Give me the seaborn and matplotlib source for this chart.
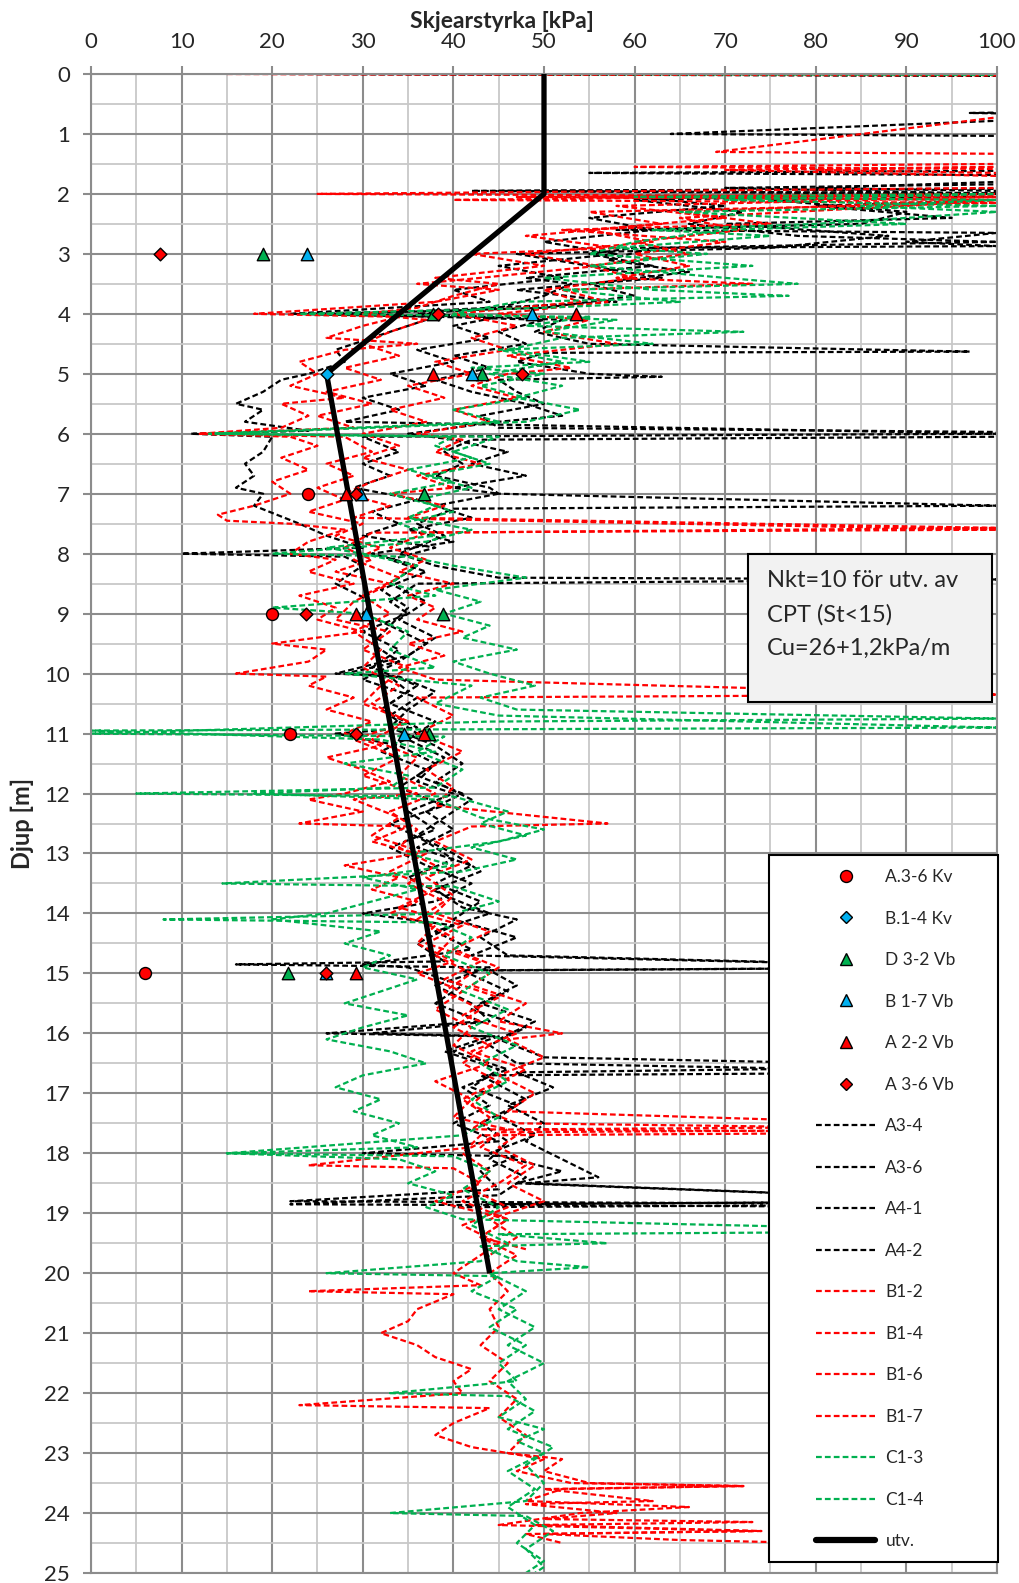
import numpy as np
import pandas as pd
import matplotlib
matplotlib.use("Agg")
import matplotlib.pyplot as plt
import seaborn as sns
from matplotlib.lines import Line2D
from matplotlib.patches import Rectangle
from matplotlib.ticker import MultipleLocator

# ---------------- data ----------------
X_TICKS = [0, 10, 20, 30, 40, 50, 60, 70, 80, 90, 100]
Y_TICKS = list(range(0, 26))

# point measurements (kPa, depth m)
A36_KV_x = [24.0, 20.0, 22.0, 6.0]
A36_KV_y = [7, 9, 11, 15]
B14_KV_x = [26.0]
B14_KV_y = [5]
D32_VB_x = [19.0, 37.8, 43.2, 36.7, 38.9, 37.3, 21.7]
D32_VB_y = [3, 4, 5, 7, 9, 11, 15]
B17_VB_x = [23.8, 48.7, 42.0, 29.8, 30.3, 34.6, 25.9]
B17_VB_y = [3, 4, 5, 7, 9, 11, 15]
A22_VB_x = [53.5, 37.8, 28.1, 29.2, 36.7, 29.2]
A22_VB_y = [4, 5, 7, 9, 11, 15]
A36_VB_x = [7.6, 38.3, 47.6, 29.2, 23.7, 29.2, 25.9]
A36_VB_y = [3, 4, 5, 7, 9, 11, 15]

# evaluated line (utv.)
UTV_x = [50, 50, 26, 44]
UTV_y = [0, 2, 5, 20]

# CPT traces: (depth m, cu kPa)
A3_4 = [(0.0, 22), (0.03, 120), (1.9, 120), (1.95, 42), (2.0, 100), (2.05, 60), (2.2, 70), (2.4, 55),
        (2.6, 62), (2.8, 50), (3.0, 58), (3.2, 45), (3.4, 52), (3.6, 40), (3.8, 44), (4.0, 22), (4.05, 38),
        (4.2, 35), (4.4, 31), (4.6, 27), (4.8, 28), (5.0, 24), (5.1, 21), (5.3, 19), (5.5, 16), (5.6, 19),
        (5.8, 17), (5.95, 24), (6.0, 11), (6.05, 20), (6.3, 19), (6.5, 17), (6.7, 18), (6.9, 16), (7.0, 19),
        (7.2, 18), (7.5, 23), (7.7, 26), (7.9, 30), (8.0, 10), (8.05, 28), (8.2, 30), (8.5, 27), (8.8, 31),
        (9.0, 30), (9.2, 33), (9.5, 31), (9.8, 34), (10.0, 28), (10.05, 33), (10.3, 35), (10.6, 32),
        (10.9, 36), (11.0, 27), (11.2, 34), (11.5, 38), (11.8, 36), (12.0, 40), (12.3, 35), (12.6, 38),
        (12.9, 33), (13.2, 37), (13.5, 42), (13.8, 38), (14.0, 30), (14.2, 40), (14.5, 36), (14.8, 39),
        (14.85, 16), (14.9, 44), (15.2, 38), (15.5, 42), (15.8, 44), (16.0, 31), (16.05, 45), (16.3, 40),
        (16.6, 46), (16.9, 41), (17.2, 44), (17.5, 40), (17.8, 45), (18.0, 30), (18.05, 47), (18.3, 43),
        (18.6, 45), (18.8, 22), (18.85, 100), (18.9, 40)]
A3_6 = [(0.6, 120), (0.65, 97), (0.7, 120), (0.78, 100), (1.0, 64), (1.05, 120), (1.6, 120), (1.65, 55),
        (1.7, 120), (1.9, 80), (2.0, 120), (2.1, 75), (2.3, 90), (2.5, 85), (2.6, 58), (2.65, 100), (2.8, 90),
        (2.87, 100), (2.9, 60), (3.0, 55), (3.2, 62), (3.4, 48), (3.5, 53), (3.7, 50), (3.9, 45), (4.0, 36),
        (4.1, 52), (4.3, 49), (4.5, 55), (4.63, 97), (4.65, 50), (4.8, 47), (5.0, 55), (5.05, 63), (5.1, 45),
        (5.3, 47), (5.5, 50), (5.7, 43), (5.9, 45), (5.97, 100), (6.05, 100), (6.1, 42), (6.3, 39), (6.5, 41),
        (6.7, 38), (6.9, 44), (7.0, 45), (7.2, 100), (7.25, 40), (7.5, 36), (7.7, 39), (8.0, 34), (8.2, 38),
        (8.4, 45), (8.43, 100), (8.5, 36), (8.8, 33), (9.0, 35), (9.3, 30), (9.6, 34), (9.9, 31), (10.2, 36),
        (10.5, 33), (10.8, 38), (11.1, 35), (11.4, 39), (11.7, 36), (12.0, 41), (12.3, 37), (12.6, 40),
        (12.9, 36), (13.2, 42), (13.5, 38), (13.8, 43), (14.1, 40), (14.4, 47), (14.7, 42), (14.9, 100),
        (14.95, 44), (15.2, 47), (15.5, 43), (15.8, 49), (16.1, 45), (16.4, 50), (16.55, 100), (16.65, 47),
        (16.9, 51), (17.2, 46), (17.5, 50), (17.8, 48), (18.1, 52), (18.4, 56), (18.5, 48), (18.8, 100),
        (18.85, 44)]
A4_1 = [(0.0, 100), (0.05, 120), (1.9, 120), (1.95, 45), (2.0, 120), (2.2, 80), (2.4, 95), (2.5, 70),
        (2.7, 88), (2.9, 75), (3.0, 47), (3.2, 55), (3.4, 63), (3.6, 47), (3.8, 58), (3.95, 37), (4.0, 24),
        (4.05, 45), (4.2, 40), (4.4, 44), (4.6, 36), (4.8, 40), (5.0, 33), (5.2, 37), (5.4, 30), (5.6, 34),
        (5.8, 28), (6.0, 100), (6.05, 30), (6.3, 34), (6.5, 30), (6.7, 33), (6.9, 29), (7.1, 36), (7.3, 31),
        (7.5, 34), (7.7, 30), (7.9, 38), (8.1, 33), (8.3, 37), (8.6, 32), (8.9, 35), (9.2, 33), (9.5, 37),
        (9.8, 34), (10.1, 30), (10.4, 36), (10.7, 33), (11.0, 36), (11.3, 32), (11.6, 37), (11.9, 34),
        (12.2, 39), (12.5, 33), (12.8, 37), (13.1, 40), (13.4, 35), (13.7, 39), (14.0, 44), (14.3, 38),
        (14.6, 42), (14.85, 30), (14.9, 35), (15.2, 41), (15.5, 38), (15.8, 43), (16.0, 26), (16.05, 44),
        (16.3, 39), (16.6, 45), (16.9, 42), (17.2, 47), (17.5, 43), (17.8, 46), (18.1, 44), (18.4, 48),
        (18.7, 45), (18.85, 22), (18.9, 100)]
A4_2 = [(0.0, 25), (0.04, 120), (1.8, 120), (1.9, 70), (2.0, 100), (2.1, 60), (2.3, 72), (2.5, 66),
        (2.7, 78), (2.8, 100), (2.9, 62), (3.1, 57), (3.3, 66), (3.5, 55), (3.7, 60), (3.9, 50), (4.0, 27),
        (4.1, 50), (4.3, 45), (4.5, 48), (4.7, 40), (4.9, 44), (5.1, 38), (5.3, 42), (5.5, 48), (5.7, 52),
        (5.8, 45), (6.0, 35), (6.1, 40), (6.3, 46), (6.5, 42), (6.7, 48), (6.9, 40), (7.0, 45), (7.2, 38),
        (7.4, 42), (7.6, 35), (7.8, 40), (8.0, 31), (8.2, 36), (8.5, 33), (8.8, 37), (9.1, 34), (9.4, 38),
        (9.7, 35), (10.0, 27), (10.05, 34), (10.3, 38), (10.6, 35), (10.9, 33), (11.2, 38), (11.5, 41),
        (11.8, 38), (12.1, 42), (12.4, 39), (12.7, 36), (13.0, 40), (13.3, 43), (13.6, 38), (13.9, 41),
        (14.1, 47), (14.4, 43), (14.7, 46), (14.9, 100), (14.95, 41), (15.3, 46), (15.6, 42), (15.9, 48),
        (16.2, 44), (16.5, 47), (16.65, 100), (16.7, 43), (17.1, 48), (17.4, 45), (17.7, 49), (18.0, 44),
        (18.3, 52), (18.5, 47), (18.8, 100), (18.85, 43)]
B1_2 = [(0.0, 15), (0.03, 120), (1.4, 120), (1.5, 100), (1.55, 60), (1.6, 120), (1.9, 100), (2.0, 25),
        (2.05, 100), (2.2, 58), (2.4, 70), (2.6, 55), (2.8, 62), (3.0, 48), (3.2, 56), (3.4, 43), (3.5, 36),
        (3.6, 45), (3.8, 38), (4.0, 18), (4.05, 34), (4.2, 30), (4.4, 26), (4.5, 36), (4.6, 28), (4.8, 23),
        (5.0, 25), (5.2, 22), (5.4, 28), (5.5, 21), (5.7, 24), (5.9, 21), (6.0, 12), (6.05, 22), (6.2, 25),
        (6.4, 21), (6.6, 24), (6.8, 20), (7.0, 22), (7.2, 18), (7.35, 14), (7.45, 15), (7.5, 22), (7.6, 28),
        (7.8, 24), (8.0, 22), (8.1, 27), (8.3, 24), (8.5, 29), (8.7, 23), (8.9, 27), (9.1, 25), (9.3, 30),
        (9.5, 20), (9.6, 26), (9.8, 24), (10.0, 16), (10.05, 26), (10.2, 24), (10.4, 29), (10.6, 26),
        (10.8, 31), (11.0, 28), (11.2, 32), (11.4, 26), (11.6, 30), (11.8, 33), (12.0, 28), (12.1, 24),
        (12.3, 30), (12.5, 23), (12.55, 35), (12.8, 31), (13.0, 36), (13.2, 28), (13.4, 34), (13.6, 31),
        (13.8, 36), (14.0, 33), (14.2, 38), (14.5, 36), (14.8, 40), (15.0, 36), (15.3, 41), (15.6, 38),
        (15.9, 42), (16.2, 40), (16.5, 44), (16.8, 38), (17.1, 42), (17.4, 40), (17.6, 46), (17.9, 42),
        (18.2, 24), (18.25, 40), (18.5, 43), (18.8, 38), (19.1, 46), (19.4, 43), (19.6, 48)]
B1_4 = [(0.0, 100), (0.05, 120), (0.3, 100), (0.35, 120), (1.3, 69), (1.35, 120), (2.0, 120), (2.05, 47),
        (2.1, 100), (2.3, 65), (2.5, 75), (2.6, 52), (2.8, 70), (3.0, 60), (3.2, 66), (3.4, 58), (3.5, 73),
        (3.6, 52), (3.8, 57), (4.0, 45), (4.1, 55), (4.3, 50), (4.5, 58), (4.7, 46), (4.9, 53), (5.0, 46),
        (5.2, 42), (5.4, 47), (5.6, 40), (5.8, 44), (6.0, 36), (6.1, 41), (6.3, 38), (6.5, 43), (6.7, 36),
        (6.9, 40), (7.0, 33), (7.2, 39), (7.4, 35), (7.57, 100), (7.65, 37), (7.9, 33), (8.1, 37), (8.3, 34),
        (8.5, 40), (8.7, 35), (8.9, 38), (9.1, 36), (9.3, 41), (9.5, 35), (9.7, 39), (9.9, 34), (10.1, 38),
        (10.35, 100), (10.4, 36), (10.7, 40), (11.0, 36), (11.3, 41), (11.6, 37), (11.9, 40), (12.2, 38),
        (12.5, 57), (12.55, 42), (12.8, 38), (13.1, 42), (13.4, 37), (13.7, 40), (14.0, 38), (14.3, 44),
        (14.6, 40), (14.9, 45), (15.2, 42), (15.5, 48), (15.8, 45), (16.0, 52), (16.1, 46), (16.4, 50),
        (16.7, 45), (17.0, 49), (17.3, 46), (17.55, 100), (17.6, 48), (17.9, 45), (18.2, 49), (18.5, 46),
        (18.8, 50), (19.1, 44), (19.4, 47), (19.7, 44)]
B1_6 = [(0.0, 20), (0.02, 120), (1.5, 120), (1.6, 80), (1.7, 120), (2.0, 100), (2.1, 40), (2.15, 100),
        (2.3, 55), (2.5, 63), (2.7, 48), (2.9, 58), (3.0, 42), (3.2, 50), (3.4, 38), (3.5, 45), (3.7, 40),
        (3.9, 36), (4.0, 30), (4.1, 37), (4.3, 33), (4.5, 30), (4.7, 34), (4.9, 28), (5.1, 32), (5.3, 26),
        (5.5, 31), (5.7, 25), (5.9, 29), (6.0, 12), (6.05, 28), (6.3, 31), (6.5, 26), (6.7, 29), (6.9, 25),
        (7.1, 28), (7.3, 24), (7.5, 30), (7.7, 27), (7.9, 32), (8.1, 29), (8.4, 34), (8.7, 30), (9.0, 33),
        (9.3, 29), (9.6, 32), (9.9, 30), (10.2, 34), (10.5, 31), (10.8, 35), (11.1, 31), (11.4, 36),
        (11.7, 34), (12.0, 38), (12.3, 33), (12.6, 36), (12.9, 34), (13.2, 38), (13.5, 35), (13.8, 39),
        (14.1, 36), (14.4, 40), (14.7, 38), (15.0, 42), (15.3, 39), (15.6, 43), (15.9, 40), (16.2, 44),
        (16.5, 41), (16.8, 45), (17.1, 41), (17.4, 44), (17.6, 42), (17.65, 100), (17.7, 43), (18.0, 41),
        (18.3, 44), (18.6, 42), (18.9, 46), (19.2, 41), (19.5, 45), (19.8, 42), (20.0, 40), (20.2, 43),
        (20.3, 24), (20.35, 40), (20.6, 36), (20.8, 35), (21.0, 32), (21.2, 36), (21.4, 38), (21.6, 42),
        (21.8, 40), (22.0, 41), (22.2, 23), (22.25, 44), (22.5, 40), (22.7, 38), (22.9, 42), (23.0, 46),
        (23.1, 50), (23.3, 47), (23.5, 53), (23.55, 72), (23.6, 52), (23.8, 48), (23.9, 66), (24.0, 54),
        (24.2, 45), (24.3, 73), (24.35, 50), (24.45, 65), (24.5, 80)]
B1_7 = [(0.0, 100), (0.04, 120), (1.5, 120), (1.55, 100), (1.6, 70), (1.7, 100), (2.0, 100), (2.05, 55),
        (2.1, 100), (2.2, 90), (2.4, 65), (2.6, 72), (2.8, 60), (3.0, 66), (3.2, 55), (3.4, 60), (3.6, 50),
        (3.8, 54), (4.0, 40), (4.2, 47), (4.4, 42), (4.6, 46), (4.8, 38), (5.0, 42), (5.2, 35), (5.4, 39),
        (5.6, 33), (5.8, 37), (6.0, 30), (6.2, 34), (6.4, 30), (6.6, 35), (6.8, 31), (7.0, 28), (7.2, 33),
        (7.4, 29), (7.6, 100), (7.65, 31), (7.9, 28), (8.1, 31), (8.3, 27), (8.5, 33), (8.8, 29), (9.1, 27),
        (9.3, 33), (9.6, 30), (9.9, 35), (10.2, 32), (10.5, 30), (10.8, 35), (11.1, 29), (11.4, 34),
        (11.7, 30), (12.0, 36), (12.1, 29), (12.4, 34), (12.7, 31), (13.0, 37), (13.3, 33), (13.6, 38),
        (13.9, 34), (14.2, 41), (14.5, 37), (14.8, 43), (15.1, 39), (15.4, 45), (15.7, 41), (16.0, 47),
        (16.3, 42), (16.6, 48), (16.9, 44), (17.2, 42), (17.5, 47), (17.6, 100), (17.65, 45), (17.9, 43),
        (18.2, 48), (18.5, 45), (18.8, 41), (19.1, 46), (19.4, 43), (19.7, 47), (20.0, 44), (20.3, 46),
        (20.6, 44), (20.9, 45), (21.2, 43), (21.5, 46), (21.8, 44), (22.1, 47), (22.4, 45), (22.7, 48),
        (23.0, 46), (23.1, 52), (23.3, 50), (23.5, 55), (23.55, 72), (23.6, 50), (23.8, 62), (23.85, 48),
        (24.0, 58), (24.1, 50), (24.15, 73), (24.2, 49), (24.3, 74), (24.35, 48), (24.5, 52)]
C1_3 = [(0.0, 45), (0.02, 120), (1.9, 120), (2.0, 100), (2.05, 60), (2.1, 100), (2.2, 85), (2.3, 100),
        (2.5, 80), (2.6, 62), (2.7, 75), (2.9, 58), (3.0, 68), (3.2, 55), (3.4, 70), (3.5, 78), (3.6, 52),
        (3.8, 65), (3.9, 50), (4.0, 23), (4.05, 55), (4.2, 48), (4.3, 72), (4.4, 52), (4.6, 46), (4.8, 55),
        (4.9, 42), (5.0, 50), (5.2, 43), (5.4, 48), (5.6, 40), (5.8, 45), (6.0, 13), (6.05, 40), (6.2, 38),
        (6.4, 42), (6.6, 35), (6.8, 40), (7.0, 33), (7.2, 38), (7.4, 35), (7.6, 42), (7.8, 37), (8.0, 20),
        (8.05, 35), (8.2, 40), (8.4, 48), (8.6, 38), (8.8, 43), (9.0, 39), (9.2, 44), (9.4, 41), (9.6, 47),
        (9.8, 40), (10.0, 44), (10.2, 49), (10.4, 43), (10.6, 47), (10.75, 100), (10.8, 44), (11.0, 0),
        (11.05, 39), (11.3, 36), (11.6, 41), (11.9, 38), (12.0, 5), (12.05, 40), (12.3, 46), (12.5, 43),
        (12.7, 48), (12.9, 42), (13.1, 47), (13.3, 41), (13.5, 14.5), (13.55, 40), (13.8, 45), (14.0, 40),
        (14.1, 8), (14.15, 38), (14.4, 42), (14.7, 39), (15.0, 44), (15.3, 41), (15.6, 46), (15.9, 42),
        (16.2, 47), (16.5, 43), (16.8, 46), (17.1, 42), (17.4, 45), (17.7, 41), (18.0, 15), (18.05, 40),
        (18.3, 44), (18.6, 41), (18.9, 45), (19.2, 42), (19.5, 46), (19.8, 43), (20.0, 26), (20.05, 45),
        (20.3, 42), (20.6, 47), (20.9, 44), (21.2, 48), (21.5, 45), (21.8, 47), (22.0, 33), (22.05, 46),
        (22.3, 49), (22.6, 46), (22.9, 51), (23.2, 48), (23.5, 50), (23.8, 48), (24.0, 33), (24.05, 48),
        (24.3, 51), (24.6, 48), (24.9, 50), (25.0, 49)]
C1_4 = [(0.0, 100), (0.03, 120), (1.95, 120), (2.0, 100), (2.1, 70), (2.2, 100), (2.3, 65), (2.5, 90),
        (2.6, 70), (2.8, 60), (3.0, 55), (3.2, 73), (3.4, 50), (3.6, 62), (3.7, 77), (3.8, 47), (4.0, 40),
        (4.1, 58), (4.3, 50), (4.5, 62), (4.6, 45), (4.8, 52), (5.0, 44), (5.2, 52), (5.4, 47), (5.6, 54),
        (5.8, 48), (6.0, 14), (6.05, 45), (6.3, 40), (6.5, 44), (6.7, 37), (6.9, 42), (7.1, 36), (7.3, 40),
        (7.5, 34), (7.7, 38), (7.9, 26), (8.0, 30), (8.2, 36), (8.5, 33), (8.7, 38), (8.9, 20), (9.0, 30),
        (9.3, 35), (9.6, 33), (9.9, 38), (10.0, 28), (10.2, 42), (10.5, 38), (10.7, 45), (10.9, 100),
        (10.95, 0), (11.1, 32), (11.3, 38), (11.5, 28), (11.7, 35), (11.9, 33), (12.0, 18), (12.1, 38),
        (12.4, 43), (12.6, 50), (12.8, 45), (13.0, 35), (13.2, 40), (13.4, 30), (13.6, 36), (13.8, 31),
        (14.0, 26), (14.1, 20), (14.3, 32), (14.5, 28), (14.7, 33), (14.9, 30), (15.1, 36), (15.3, 32),
        (15.5, 28), (15.7, 35), (15.9, 30), (16.1, 26), (16.3, 33), (16.5, 37), (16.7, 30), (16.9, 27),
        (17.1, 32), (17.3, 29), (17.5, 34), (17.7, 31), (17.9, 36), (18.0, 15), (18.1, 34), (18.3, 38),
        (18.5, 35), (18.7, 40), (18.9, 37), (19.1, 41), (19.3, 100), (19.35, 45), (19.5, 57), (19.55, 43),
        (19.8, 47), (19.9, 55), (20.0, 44), (20.3, 48), (20.6, 45), (20.9, 49), (21.2, 46), (21.5, 50),
        (21.8, 46), (22.1, 48), (22.4, 45), (22.6, 50), (22.8, 47), (23.0, 50), (23.3, 46), (23.6, 49),
        (23.9, 46), (24.2, 49), (24.5, 47), (24.8, 50), (25.0, 48)]

TRACE_NAMES = ["A3-4", "A3-6", "A4-1", "A4-2", "B1-2", "B1-4", "B1-6", "B1-7", "C1-3", "C1-4"]
TRACES = [A3_4, A3_6, A4_1, A4_2, B1_2, B1_4, B1_6, B1_7, C1_3, C1_4]

# ---------------- style ----------------
RED = "#FF0000"
GREEN = "#00B050"
BLUE = "#00B0F0"
BLACK = "#000000"
TRACE_COLORS = [BLACK] * 4 + [RED] * 4 + [GREEN] * 2
DASH = (0, (2.6, 1.4))
LW = 1.6
GRID_MAJ = "#8c8c8c"
GRID_MIN = "#c8c8c8"

sns.set_style("white")
plt.rcParams['font.family'] = ['Lato', 'DejaVu Sans']

W, H = 1020, 1583
fig = plt.figure(figsize=(W / 100, H / 100), dpi=100)
ax = fig.add_axes([91 / W, 1 - 1573 / H, 906 / W, 1499 / H])

# CPT traces
for name, tr, col in zip(TRACE_NAMES, TRACES, TRACE_COLORS):
    df = pd.DataFrame(tr, columns=["depth", "cu"])
    sns.lineplot(data=df, x="cu", y="depth", sort=False, estimator=None, ax=ax,
                 color=col, lw=LW, linestyle=DASH, legend=False, zorder=2)

# evaluated line
sns.lineplot(x=UTV_x, y=UTV_y, sort=False, estimator=None, ax=ax, color=BLACK,
             lw=3.8, legend=False, zorder=4, solid_capstyle="butt")

# point data
pts = [
    (A36_KV_x, A36_KV_y, "o", RED, 74),
    (B14_KV_x, B14_KV_y, "D", BLUE, 42),
    (D32_VB_x, D32_VB_y, "^", GREEN, 80),
    (B17_VB_x, B17_VB_y, "^", BLUE, 80),
    (A22_VB_x, A22_VB_y, "^", RED, 80),
    (A36_VB_x, A36_VB_y, "D", RED, 42),
]
for xs, ys, mk, col, s in pts:
    sns.scatterplot(x=xs, y=ys, marker=mk, color=col, s=s, edgecolor="black",
                    linewidth=1.0, ax=ax, zorder=6, legend=False)

# axes formatting
ax.set_xlim(0, 100)
ax.set_ylim(25, 0)
ax.set_xticks(X_TICKS)
ax.set_yticks(Y_TICKS)
ax.xaxis.set_minor_locator(MultipleLocator(5))
ax.yaxis.set_minor_locator(MultipleLocator(0.5))
ax.xaxis.tick_top()
ax.set_xlabel("")
ax.set_ylabel("")
ax.grid(which="minor", color=GRID_MIN, lw=1.3)
ax.grid(which="major", color=GRID_MAJ, lw=1.5)
ax.set_axisbelow(True)
ax.tick_params(which="minor", length=0)
ax.tick_params(axis="x", which="major", top=True, bottom=False, length=6, width=1.5,
               color=GRID_MAJ, labelsize=16, pad=10, direction="out")
ax.tick_params(axis="y", which="major", left=True, right=False, length=6, width=1.5,
               color=GRID_MAJ, labelsize=16, pad=9, direction="out")
for sp in ax.spines.values():
    sp.set_color(GRID_MAJ)
    sp.set_linewidth(1.5)

fig.text(502 / W, 1 - 22 / H, "Skjearstyrka [kPa]", fontsize=16.5, fontweight="bold",
         ha="center", va="center")
fig.text(22 / W, 1 - 823 / H, "Djup [m]", fontsize=17, fontweight="bold",
         ha="center", va="center", rotation=90)

# annotation box
ax.add_patch(Rectangle((72.5, 8.0), 26.9, 2.48, facecolor="#f2f2f2", edgecolor="black",
                       lw=1.5, zorder=10))
for txt, yy in [("Nkt=10 för utv. av", 8.55), ("CPT (St<15)", 9.13), ("Cu=26+1,2kPa/m", 9.68)]:
    ax.text(74.6, yy, txt, fontsize=17, ha="left", va="baseline", zorder=11)

# legend
leg_labels = ["A.3-6 Kv", "B.1-4 Kv", "D 3-2 Vb", "B 1-7 Vb", "A 2-2 Vb", "A 3-6 Vb"] + TRACE_NAMES + ["utv."]
handles = []
for xs, ys, mk, col, s in pts:
    ms = 8.6 if mk != "D" else 6.5
    handles.append(Line2D([], [], marker=mk, ls="none", mfc=col, mec="black", mew=1.0, ms=ms))
for col in TRACE_COLORS:
    handles.append(Line2D([], [], color=col, lw=LW, ls=DASH))
handles.append(Line2D([], [], color=BLACK, lw=4.5, solid_capstyle="round"))

fig.patches.append(Rectangle((769 / W, 1 - 1562 / H), (998 - 769) / W, (1562 - 855) / H,
                             transform=fig.transFigure, facecolor="white", edgecolor="black",
                             lw=1.5, zorder=4))
fig.legend(handles, leg_labels, loc="upper left", bbox_to_anchor=(816 / W, 1 - 869 / H),
           frameon=False, fontsize=12.5, borderpad=0, borderaxespad=0, handlelength=3.4,
           handletextpad=0.6, labelspacing=1.47)

fig.savefig("out.png", dpi=100)
